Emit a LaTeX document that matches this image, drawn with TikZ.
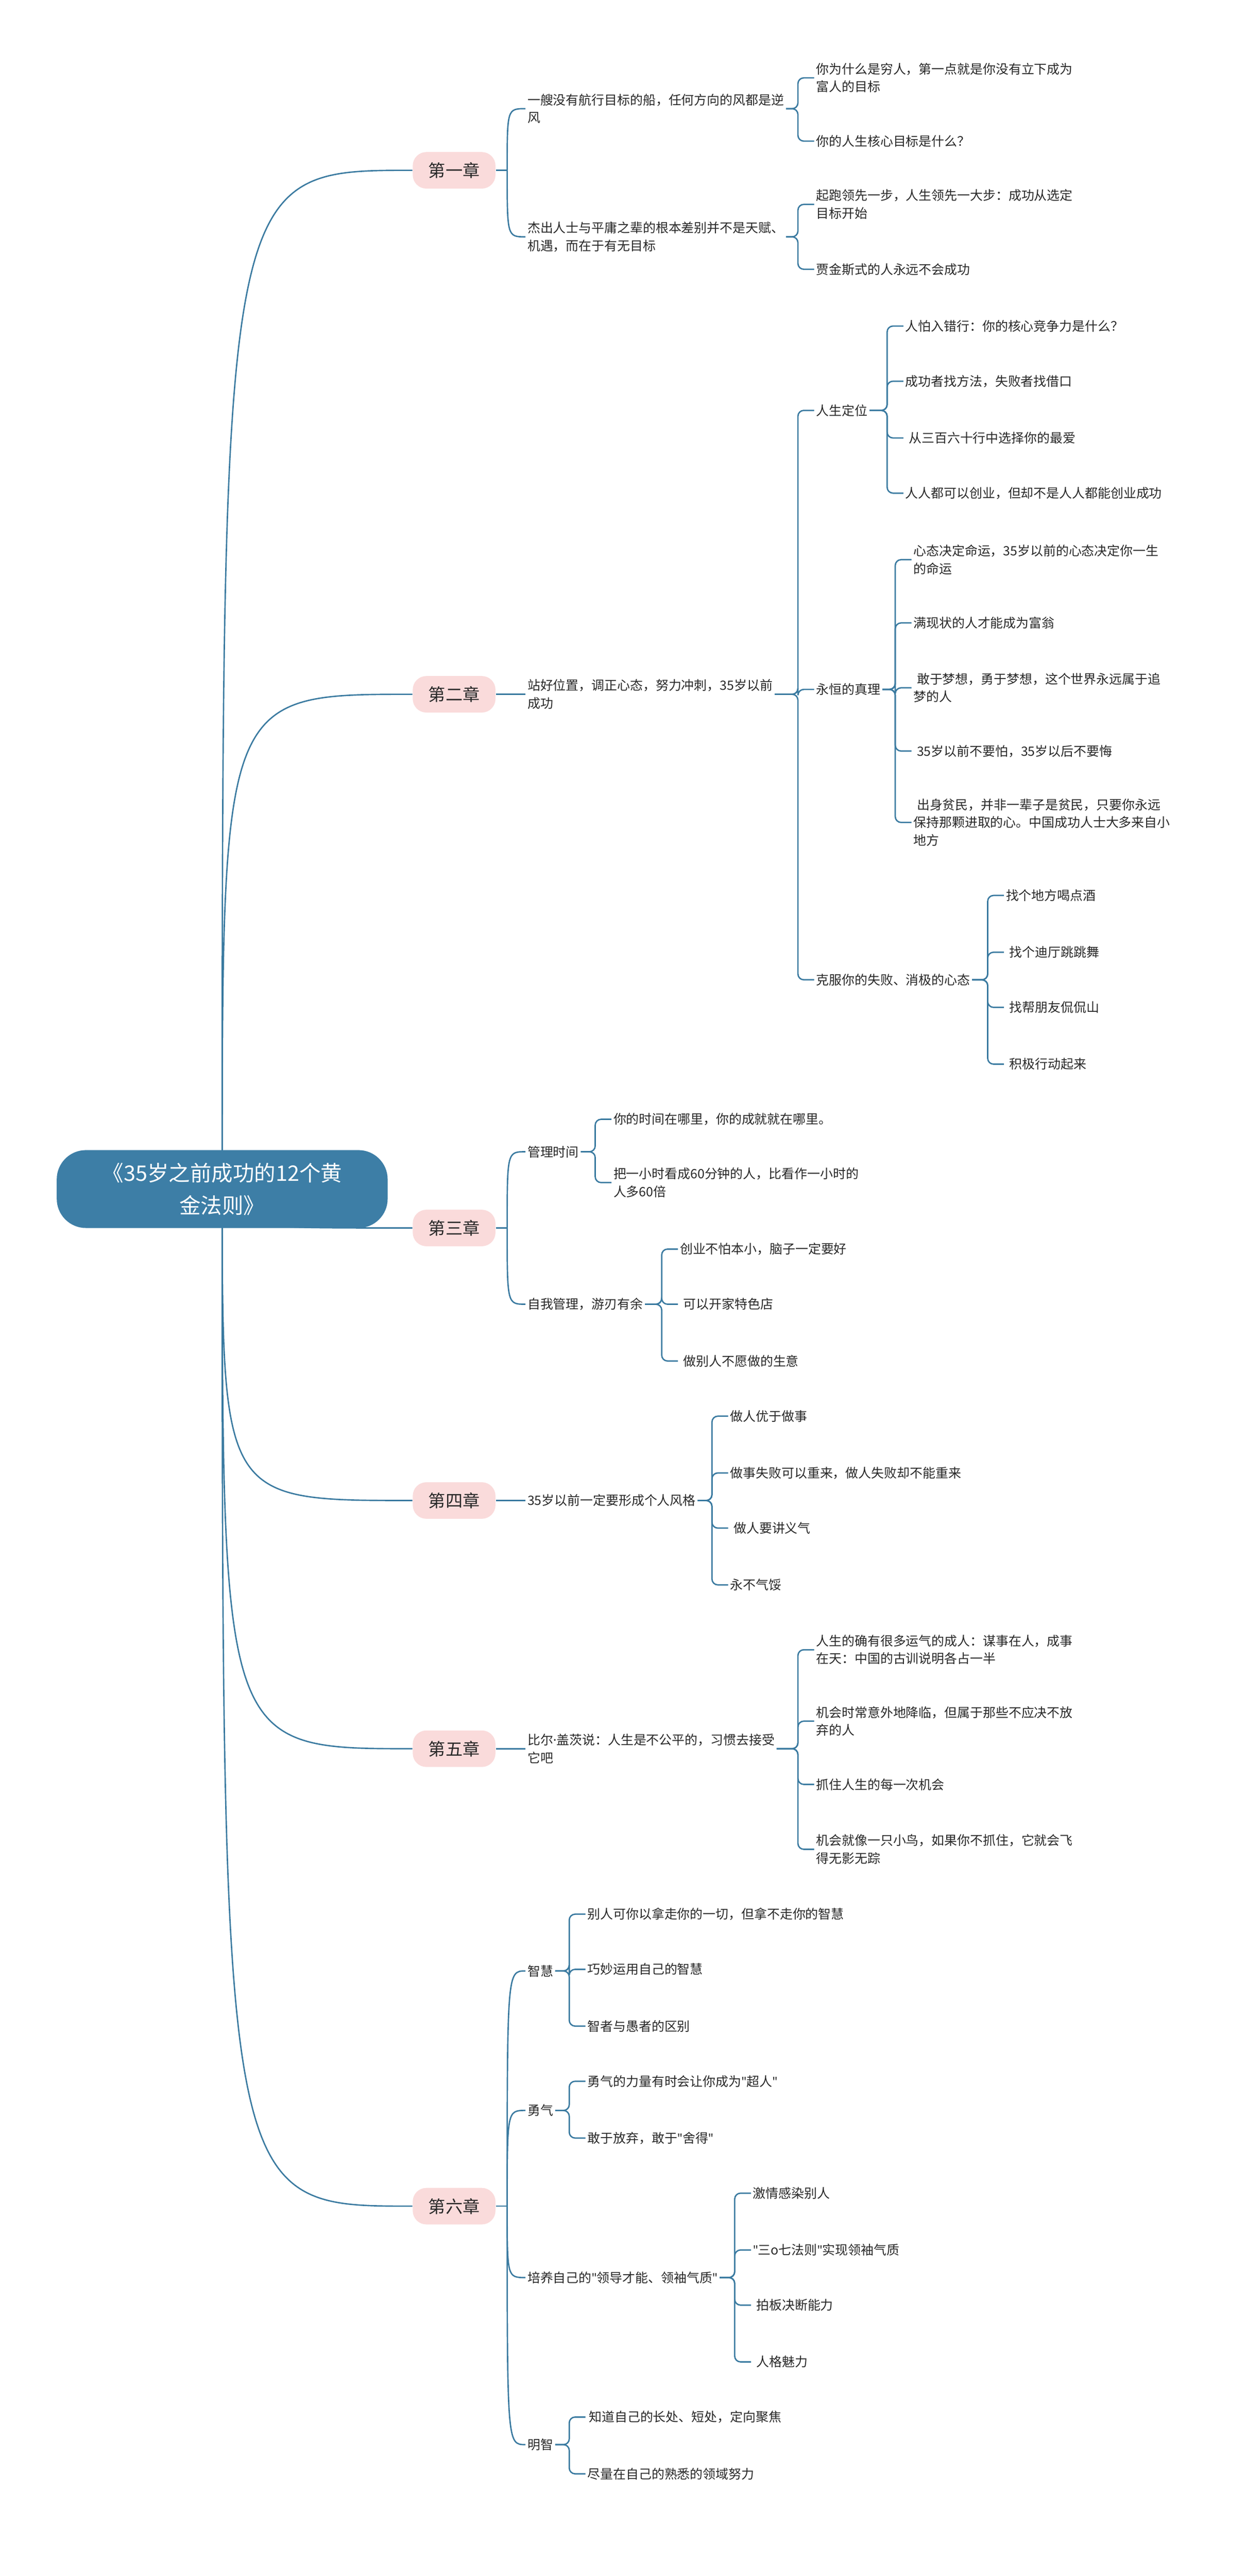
\documentclass[tikz,border=0pt]{standalone}
\usepackage{fontspec}
\setmainfont{Noto Sans CJK SC}
\newfontfamily\latinfont{Noto Sans}
\newcommand\dq{{\latinfont"}}
\newcommand\mdot{{\latinfont·}}
\usetikzlibrary{calc,backgrounds}
\definecolor{linkblue}{RGB}{58,122,160}
\definecolor{rootblue}{RGB}{61,126,166}
\definecolor{chapfill}{RGB}{250,219,219}
\definecolor{textgray}{RGB}{40,40,40}
\tikzset{
  link/.style={draw=linkblue, line width=0.8pt, rounded corners=1.2mm},
  leaf/.style={anchor=west, inner sep=1pt, align=left, text=textgray, font=\fontsize{7.5}{10.4}\selectfont},
  chap/.style={fill=chapfill, rounded corners=2.8mm, minimum width=17mm, minimum height=7.5mm, inner sep=0pt, text=textgray, font=\fontsize{10}{12}\selectfont},
  rootbox/.style={fill=rootblue, text=white, rounded corners=6mm, minimum width=68mm, minimum height=16mm, align=center, font=\fontsize{12.5}{19}\selectfont}
}
\newcommand\fork[2]{\foreach \kid in {#2} \draw[link] (#1.east) -| ($(\kid.west)+(-10,0)$) -- (\kid.west);}
\newcommand\sweep[2]{\draw[link] (#1.east) -- ++(7,0) coordinate (#1j);
  \foreach \kid in {#2} \draw[link] (#1j) .. controls (#1j |- \kid.west) .. (\kid.west);}
\begin{document}
\begin{tikzpicture}[x=0.3333mm, y=-0.3333mm]
  \useasboundingbox (0,0) rectangle (768,1588);

  \node[rootbox] (root) at (137,733) {《35岁之前成功的12个黄\\金法则》};

  \node[chap] (ch1) at (280,105) {第一章};
  \node[chap] (ch2) at (280,428) {第二章};
  \node[chap] (ch3) at (280,757) {第三章};
  \node[chap] (ch4) at (280,925) {第四章};
  \node[chap] (ch5) at (280,1078) {第五章};
  \node[chap] (ch6) at (280,1360) {第六章};

  % chapter one
  \node[leaf] (k1a) at (324,67) {一艘没有航行目标的船，任何方向的风都是逆\\风};
  \node[leaf] (k1b) at (324,146) {杰出人士与平庸之辈的根本差别并不是天赋、\\机遇，而在于有无目标};
  \node[leaf] (k1a1) at (502,48) {你为什么是穷人，第一点就是你没有立下成为\\富人的目标};
  \node[leaf] (k1a2) at (502,87) {你的人生核心目标是什么？};
  \node[leaf] (k1b1) at (502,126) {起跑领先一步，人生领先一大步：成功从选定\\目标开始};
  \node[leaf] (k1b2) at (502,166) {贾金斯式的人永远不会成功};

  % chapter two
  \node[leaf] (k2) at (324,428) {站好位置，调正心态，努力冲刺，35岁以前\\成功};
  \node[leaf] (k2a) at (502,253) {人生定位};
  \node[leaf] (k2b) at (502,425) {永恒的真理};
  \node[leaf] (k2c) at (502,604) {克服你的失败、消极的心态};
  \node[leaf] (k2a1) at (557,201) {人怕入错行：你的核心竞争力是什么？};
  \node[leaf] (k2a2) at (557,235) {成功者找方法，失败者找借口};
  \node[leaf] (k2a3) at (557,270) {\hspace{0.7mm}从三百六十行中选择你的最爱};
  \node[leaf] (k2a4) at (557,304) {人人都可以创业，但却不是人人都能创业成功};
  \node[leaf] (k2b1) at (562,345) {心态决定命运，35岁以前的心态决定你一生\\的命运};
  \node[leaf] (k2b2) at (562,384) {满现状的人才能成为富翁};
  \node[leaf] (k2b3) at (562,424) {\hspace{0.7mm}敢于梦想，勇于梦想，这个世界永远属于追\\梦的人};
  \node[leaf] (k2b4) at (562,463) {\hspace{0.7mm}35岁以前不要怕，35岁以后不要悔};
  \node[leaf] (k2b5) at (562,507) {\hspace{0.7mm}出身贫民，并非一辈子是贫民，只要你永远\\保持那颗进取的心。中国成功人士大多来自小\\地方};
  \node[leaf] (k2c1) at (619,552) {找个地方喝点酒};
  \node[leaf] (k2c2) at (619,587) {\hspace{0.7mm}找个迪厅跳跳舞};
  \node[leaf] (k2c3) at (619,621) {\hspace{0.7mm}找帮朋友侃侃山};
  \node[leaf] (k2c4) at (619,656) {\hspace{0.7mm}积极行动起来};

  % chapter three
  \node[leaf] (k3a) at (324,710) {管理时间};
  \node[leaf] (k3b) at (324,804) {自我管理，游刃有余};
  \node[leaf] (k3a1) at (377,690) {你的时间在哪里，你的成就就在哪里。};
  \node[leaf] (k3a2) at (377,729) {把一小时看成60分钟的人，比看作一小时的\\人多60倍};
  \node[leaf] (k3b1) at (418,770) {创业不怕本小，脑子一定要好};
  \node[leaf] (k3b2) at (418,804) {\hspace{0.7mm}可以开家特色店};
  \node[leaf] (k3b3) at (418,839) {\hspace{0.7mm}做别人不愿做的生意};

  % chapter four
  \node[leaf] (k4) at (324,925) {35岁以前一定要形成个人风格};
  \node[leaf] (k41) at (449,873) {做人优于做事};
  \node[leaf] (k42) at (449,908) {做事失败可以重来，做人失败却不能重来};
  \node[leaf] (k43) at (449,942) {\hspace{0.7mm}做人要讲义气};
  \node[leaf] (k44) at (449,977) {永不气馁};

  % chapter five
  \node[leaf] (k5) at (324,1078) {比尔\mdot 盖茨说：人生是不公平的，习惯去接受\\它吧};
  \node[leaf] (k51) at (502,1017) {人生的确有很多运气的成人：谋事在人，成事\\在天：中国的古训说明各占一半};
  \node[leaf] (k52) at (502,1061) {机会时常意外地降临，但属于那些不应决不放\\弃的人};
  \node[leaf] (k53) at (502,1100) {抓住人生的每一次机会};
  \node[leaf] (k54) at (502,1140) {机会就像一只小鸟，如果你不抓住，它就会飞\\得无影无踪};

  % chapter six
  \node[leaf] (k6a) at (324,1215) {智慧};
  \node[leaf] (k6b) at (324,1301) {勇气};
  \node[leaf] (k6c) at (324,1404) {培养自己的\dq 领导才能、领袖气质\dq};
  \node[leaf] (k6d) at (324,1507) {明智};
  \node[leaf] (k6a1) at (361,1180) {别人可你以拿走你的一切，但拿不走你的智慧};
  \node[leaf] (k6a2) at (361,1214) {巧妙运用自己的智慧};
  \node[leaf] (k6a3) at (361,1249) {智者与愚者的区别};
  \node[leaf] (k6b1) at (361,1283) {勇气的力量有时会让你成为\dq 超人\dq};
  \node[leaf] (k6b2) at (361,1318) {敢于放弃，敢于\dq 舍得\dq};
  \node[leaf] (k6c1) at (463,1352) {激情感染别人};
  \node[leaf] (k6c2) at (463,1387) {\dq 三o七法则\dq 实现领袖气质};
  \node[leaf] (k6c3) at (463,1421) {\hspace{0.7mm}拍板决断能力};
  \node[leaf] (k6c4) at (463,1456) {\hspace{0.7mm}人格魅力};
  \node[leaf] (k6d1) at (361,1490) {\hspace{0.3mm}知道自己的长处、短处，定向聚焦};
  \node[leaf] (k6d2) at (361,1525) {尽量在自己的熟悉的领域努力};

  \begin{scope}[on background layer]
    \fill[white] (0,0) rectangle (768,1588);
    \foreach \n in {1,...,6}
      \draw[link] (root.center) .. controls (root.center |- ch\n.west) .. (ch\n.west);
  \end{scope}

  \sweep{ch1}{k1a,k1b}
  \draw[link] (ch2.east) -- (k2.west);
  \sweep{ch3}{k3a,k3b}
  \draw[link] (ch4.east) -- (k4.west);
  \draw[link] (ch5.east) -- (k5.west);
  \sweep{ch6}{k6a,k6b,k6c,k6d}

  \fork{k1a}{k1a1,k1a2}
  \fork{k1b}{k1b1,k1b2}
  \fork{k2}{k2a,k2b,k2c}
  \fork{k2a}{k2a1,k2a2,k2a3,k2a4}
  \fork{k2b}{k2b1,k2b2,k2b3,k2b4,k2b5}
  \fork{k2c}{k2c1,k2c2,k2c3,k2c4}
  \fork{k3a}{k3a1,k3a2}
  \fork{k3b}{k3b1,k3b2,k3b3}
  \fork{k4}{k41,k42,k43,k44}
  \fork{k5}{k51,k52,k53,k54}
  \fork{k6a}{k6a1,k6a2,k6a3}
  \fork{k6b}{k6b1,k6b2}
  \fork{k6c}{k6c1,k6c2,k6c3,k6c4}
  \fork{k6d}{k6d1,k6d2}
\end{tikzpicture}
\end{document}
